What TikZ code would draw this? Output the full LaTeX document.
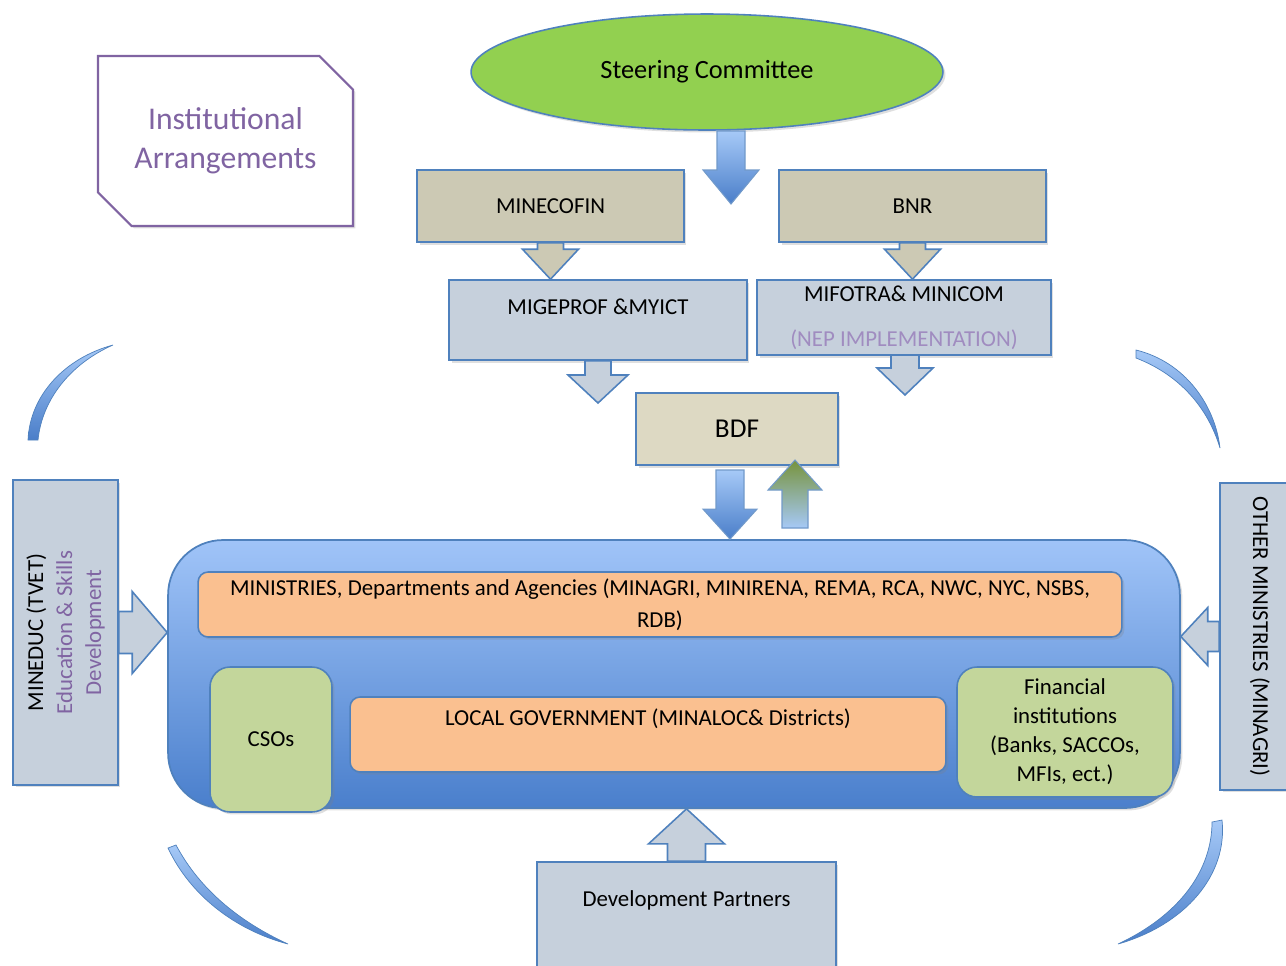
\documentclass[tikz,border=0pt]{standalone}
\usepackage{fontspec}
\setmainfont{Carlito}
\usetikzlibrary{positioning, calc, shapes.geometric, shapes.misc, shadows}

\definecolor{offblue}{HTML}{4F81BD}
\definecolor{steergreen}{HTML}{92D050}
\definecolor{tanfill}{HTML}{CCC9B4}
\definecolor{bdffill}{HTML}{DDD9C3}
\definecolor{greyblue}{HTML}{C6D0DC}
\definecolor{peach}{HTML}{FAC090}
\definecolor{lightgreen}{HTML}{C3D69B}
\definecolor{instpurple}{HTML}{8064A2}
\definecolor{neppurple}{HTML}{A08CC0}
\definecolor{bigtop}{HTML}{A0C4F8}
\definecolor{bigbottom}{HTML}{4A7FCC}
\definecolor{arrowtop}{HTML}{A6C9F7}
\definecolor{arrowbottom}{HTML}{4A7EC9}
\definecolor{olive}{HTML}{77933C}

% block arrow: [style]{from}{to}{shaft half width}{head half width}{head length}
\newcommand{\blockarrow}[6][]{%
  \coordinate (ba-h) at ($(#3)!#6!(#2)$);
  \path[#1] ($(#2)!#4!90:(#3)$) -- ($(ba-h)!#4!90:(#3)$) -- ($(ba-h)!#5!90:(#3)$)
    -- (#3) -- ($(ba-h)!#5!-90:(#3)$) -- ($(ba-h)!#4!-90:(#3)$)
    -- ($(#2)!#4!-90:(#3)$) -- cycle;
}

\tikzset{
  softshadow/.style={drop shadow={opacity=0.25, shadow xshift=0.05cm, shadow yshift=-0.05cm}},
  box/.style={draw=offblue, line width=0.9pt, inner sep=2pt, align=center,
    font=\fontsize{13}{15.6}\selectfont, softshadow},
  tanbox/.style={box, fill=tanfill},
  greybox/.style={box, fill=greyblue},
  peachbox/.style={box, fill=peach, rounded corners=0.2cm},
  greenbox/.style={box, fill=lightgreen, rounded corners=0.4cm},
  tanarrow/.style={draw=offblue, line width=0.9pt, fill=tanfill},
  greyarrow/.style={draw=offblue, line width=0.9pt, fill=greyblue},
  bluearrow/.style={draw=offblue!80, line width=0.6pt, top color=arrowtop, bottom color=arrowbottom},
  greenarrow/.style={draw=offblue!80, line width=0.6pt, top color=olive, bottom color=arrowtop},
  cyclearc/.style={draw=offblue, line width=0.4pt, top color=arrowtop, bottom color=arrowbottom}
}

\begin{document}
\begin{tikzpicture}[x=0.02cm, y=-0.02cm]
  % Canvas
  \clip (0,0) rectangle (1286,965);

  % Title
  \node[chamfered rectangle, chamfered rectangle corners={north east, south west},
    chamfered rectangle xsep=0.56cm, draw=instpurple, line width=1.2pt, fill=white,
    minimum width=5.1cm, minimum height=3.4cm, text=instpurple, align=center,
    font=\fontsize{18}{22}\selectfont, softshadow] (inst) at (225.5,141) {Institutional\\Arrangements};

  % Top of the structure
  \node[ellipse, draw=offblue, line width=0.9pt, fill=steergreen, minimum width=9.44cm,
    minimum height=2.32cm, font=\fontsize{15}{18}\selectfont, softshadow] (steer) at (707,72) {Steering Committee};
  \node[tanbox, minimum width=5.34cm, minimum height=1.44cm] (mine) at (550.5,206) {MINECOFIN};
  \node[tanbox, minimum width=5.34cm, minimum height=1.44cm] (bnr) at (912.5,206) {BNR};
  \node[greybox, minimum width=5.96cm, minimum height=1.6cm] (mige) at (598,320) {MIGEPROF \&MYICT\\\mbox{}};
  \node[greybox, minimum width=5.88cm, minimum height=1.5cm] (mifo) at (904,317.5)
    {MIFOTRA\& MINICOM\\[10pt]{\color{neppurple}(NEP IMPLEMENTATION)}};
  \node[box, fill=bdffill, minimum width=4.04cm, minimum height=1.44cm,
    font=\fontsize{15.5}{18}\selectfont] (bdf) at (737,429) {BDF};

  % Implementing bodies
  \node[draw=offblue, line width=1pt, top color=bigtop, bottom color=bigbottom, rounded corners=1.1cm,
    minimum width=20.24cm, minimum height=5.36cm, softshadow] (big) at (674,674) {};
  \node[peachbox, minimum width=18.48cm, minimum height=1.3cm, font=\fontsize{13}{18}\selectfont] (mini) at (660,604.5)
    {MINISTRIES, Departments and Agencies (MINAGRI, MINIRENA, REMA, RCA, NWC, NYC, NSBS,\\RDB)};
  \node[greenbox, minimum width=2.44cm, minimum height=2.9cm] (cso) at (271,739.5) {CSOs};
  \node[peachbox, minimum width=11.92cm, minimum height=1.5cm] (local) at (648,734.5)
    {LOCAL GOVERNMENT (MINALOC\& Districts)\\[4pt]\mbox{}};
  \node[greenbox, minimum width=4.32cm, minimum height=2.6cm, font=\fontsize{13}{16.5}\selectfont] (fin) at (1065,732)
    {Financial\\institutions\\(Banks, SACCOs,\\MFIs, ect.)};

  % Side and bottom boxes
  \node[greybox, rotate=90, minimum width=6.1cm, minimum height=2.1cm, font=\fontsize{13}{16.5}\selectfont] (mined) at (65.5,632.5)
    {MINEDUC (TVET)\\{\color{instpurple}Education \& Skills}\\{\color{instpurple}Development}};
  \node[greybox, rotate=-90, minimum width=6.14cm, minimum height=1.6cm] (other) at (1260,636.5) {OTHER MINISTRIES (MINAGRI)};
  \node[greybox, minimum width=5.98cm, minimum height=2.56cm] (dev) at (686.5,926) {Development Partners\\[16pt]\mbox{}};

  % Connectors
  \coordinate (st-a) at (731,131);
  \coordinate (st-b) at (731,204);
  \blockarrow[bluearrow]{st-a}{st-b}{0.28cm}{0.56cm}{0.68cm}
  \coordinate (mine-b) at (mine.south |- mige.north);
  \blockarrow[tanarrow]{mine.south}{mine-b}{0.26cm}{0.56cm}{0.6cm}
  \coordinate (bnr-b) at (bnr.south |- mifo.north);
  \blockarrow[tanarrow]{bnr.south}{bnr-b}{0.26cm}{0.56cm}{0.6cm}
  \coordinate (mige-b) at (598,403);
  \blockarrow[greyarrow]{mige.south}{mige-b}{0.26cm}{0.6cm}{0.56cm}
  \coordinate (mifo-a) at (905,355);
  \coordinate (mifo-b) at (905,395);
  \blockarrow[greyarrow]{mifo-a}{mifo-b}{0.28cm}{0.56cm}{0.54cm}
  \coordinate (bdf-a) at (730,470);
  \coordinate (bdf-b) at (bdf-a |- big.north);
  \blockarrow[bluearrow]{bdf-a}{bdf-b}{0.28cm}{0.54cm}{0.6cm}
  \coordinate (up-a) at (795,528);
  \coordinate (up-b) at (795,460);
  \blockarrow[greenarrow]{up-a}{up-b}{0.26cm}{0.54cm}{0.6cm}
  \coordinate (mined-b) at (mined.south -| big.west);
  \blockarrow[greyarrow]{mined.south}{mined-b}{0.42cm}{0.82cm}{0.7cm}
  \coordinate (other-b) at (other.south -| big.east);
  \blockarrow[greyarrow]{other.south}{other-b}{0.3cm}{0.58cm}{0.54cm}
  \coordinate (dev-b) at (dev.north |- big.south);
  \blockarrow[greyarrow]{dev.north}{dev-b}{0.38cm}{0.76cm}{0.7cm}

  % Cycle arcs
  \path[cyclearc] (28,440) .. controls (30,395) and (65,358) .. (113,345)
    .. controls (70,364) and (42,400) .. (38,440) -- cycle;
  \path[cyclearc] (1136,350) .. controls (1185,362) and (1215,405) .. (1220,448)
    .. controls (1208,408) and (1180,375) .. (1136,358) -- cycle;
  \path[cyclearc] (168,848) .. controls (190,895) and (235,930) .. (288,944)
    .. controls (240,922) and (200,890) .. (176,845) -- cycle;
  \path[cyclearc] (1222,820) .. controls (1228,875) and (1185,925) .. (1118,944)
    .. controls (1180,915) and (1212,870) .. (1212,822) -- cycle;
\end{tikzpicture}
\end{document}
